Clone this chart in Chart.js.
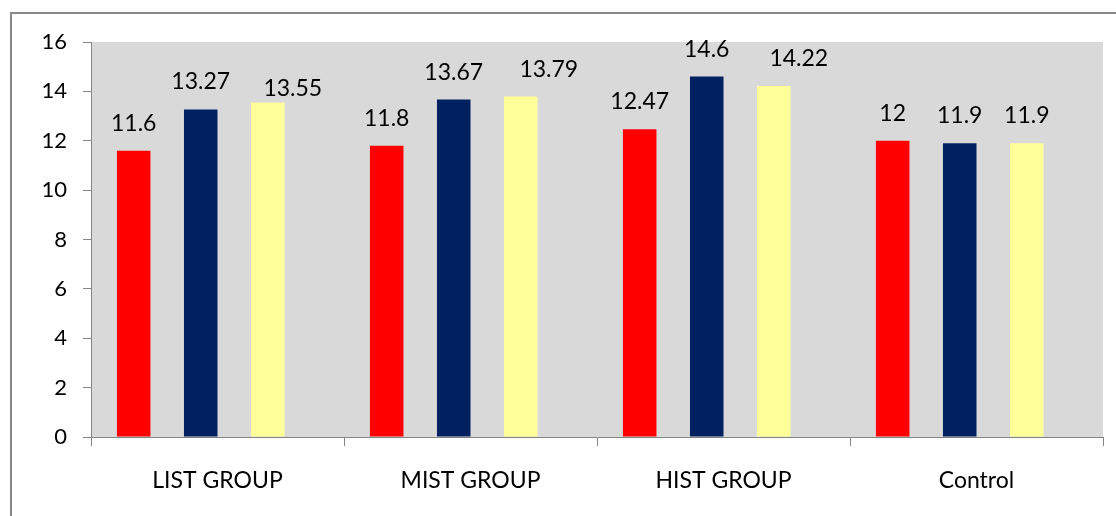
<!DOCTYPE html>
<html>
<head>
<meta charset="utf-8">
<script src="https://cdn.jsdelivr.net/npm/chart.js@4.4.1/dist/chart.umd.min.js"></script>
<style>
  html, body { margin: 0; padding: 0; background: #ffffff; overflow: hidden; }
  #frame {
    position: absolute; left: 10px; top: 12px; width: 1300px; height: 700px;
    border-left: 2px solid #898989; border-top: 2px solid #898989;
  }
  #wrap { position: absolute; left: 0; top: 0; width: 1116px; height: 516px; }
</style>
</head>
<body>
<div id="frame"></div>
<div id="wrap"><canvas id="chart" width="1116" height="516"></canvas></div>
<script>
// Data
const groups = ['LIST GROUP', 'MIST GROUP', 'HIST GROUP', 'Control'];
const redValues = [11.6, 11.8, 12.47, 12];
const navyValues = [13.27, 13.67, 14.6, 11.9];
const yellowValues = [13.55, 13.79, 14.22, 11.9];
const yMin = 0;
const yMax = 16;
const yStep = 2;

const FONT = 'Lato, "Open Sans", sans-serif';
const AXIS_GREY = '#868686';

// Grey plot area behind the bars
const plotBackground = {
  id: 'plotBackground',
  beforeDraw(chart, args, opts) {
    const { ctx, chartArea: a } = chart;
    ctx.save();
    ctx.fillStyle = opts.color;
    ctx.fillRect(a.left, a.top, a.right - a.left, a.bottom - a.top);
    ctx.restore();
  }
};

// Value labels written above each bar
const valueLabels = {
  id: 'valueLabels',
  afterDatasetsDraw(chart, args, opts) {
    const ctx = chart.ctx;
    ctx.save();
    ctx.font = opts.font;
    ctx.fillStyle = opts.color;
    ctx.textAlign = 'center';
    ctx.textBaseline = 'alphabetic';
    chart.data.datasets.forEach((ds, di) => {
      if (!ds.showValue) return;
      const meta = chart.getDatasetMeta(di);
      const shifts = opts.shifts[ds.label] || [];
      meta.data.forEach((bar, i) => {
        const v = ds.data[i];
        if (v === null || v === undefined) return;
        const s = shifts[i] || [0, 0];
        ctx.fillText(String(v), bar.x + s[0], bar.y - opts.gap + s[1]);
      });
    });
    ctx.restore();
  }
};

// Each bar sits in the left half of a double-width slot; empty spacer
// series hold the right halves so the bars are separated by one bar width.
function barSet(label, data, color) {
  return { label, data, showValue: true, backgroundColor: color, borderWidth: 0 };
}
function spacerSet(label) {
  return { label, data: [], backgroundColor: 'rgba(0,0,0,0)', borderWidth: 0 };
}

new Chart(document.getElementById('chart'), {
  type: 'bar',
  data: {
    labels: groups,
    datasets: [
      barSet('Series 1', redValues, '#ff0000'),
      spacerSet('gap 1'),
      barSet('Series 2', navyValues, '#002060'),
      spacerSet('gap 2'),
      barSet('Series 3', yellowValues, '#ffff99'),
      spacerSet('gap 3')
    ]
  },
  plugins: [plotBackground, valueLabels],
  options: {
    responsive: false,
    animation: false,
    devicePixelRatio: 1,
    layout: { padding: { top: 42, right: 13, bottom: 0, left: 0 } },
    datasets: {
      bar: {
        categoryPercentage: 0.795,
        barPercentage: 1,
        maxBarThickness: 34
      }
    },
    plugins: {
      legend: { display: false },
      tooltip: { enabled: false },
      plotBackground: { color: '#d9d9d9' },
      valueLabels: {
        font: '23px ' + FONT,
        color: '#000000',
        gap: 20,
        shifts: {
          'Series 3': [[25, 14], [28, 0], [25, 0], [0, 0]]
        }
      }
    },
    scales: {
      x: {
        type: 'category',
        offset: true,
        afterFit(scale) { scale.height = 79; },
        grid: {
          offset: true,
          drawOnChartArea: false,
          drawTicks: true,
          tickLength: 9,
          tickColor: AXIS_GREY,
          tickWidth: 1
        },
        border: { display: true, color: AXIS_GREY, width: 1 },
        ticks: {
          color: '#000000',
          font: { family: FONT, size: 23 },
          padding: 21,
          maxRotation: 0,
          autoSkip: false
        }
      },
      y: {
        min: yMin,
        max: yMax,
        afterFit(scale) { scale.width = 91; },
        grid: {
          drawOnChartArea: false,
          drawTicks: true,
          tickLength: 8,
          tickColor: AXIS_GREY,
          tickWidth: 1
        },
        border: { display: true, color: AXIS_GREY, width: 1 },
        ticks: {
          stepSize: yStep,
          color: '#000000',
          font: { family: FONT, size: 22 },
          padding: 16
        }
      }
    }
  }
});
</script>
</body>
</html>
